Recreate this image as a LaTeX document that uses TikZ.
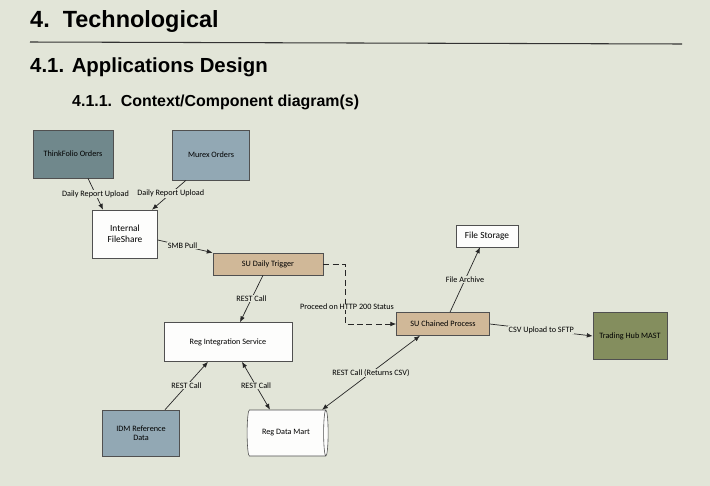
\documentclass[tikz,border=0pt]{standalone}
\usepackage{fontspec}
\setmainfont{Liberation Sans}
\newfontfamily\diagfont{Carlito}
\usetikzlibrary{shapes.geometric,arrows.meta}

\definecolor{screen}{RGB}{226,229,216}
\definecolor{slate}{RGB}{112,136,140}
\definecolor{steel}{RGB}{146,168,180}
\definecolor{tan}{RGB}{208,184,152}
\definecolor{olive}{RGB}{132,142,94}
\definecolor{boxline}{RGB}{80,80,80}

\begin{document}
\begin{tikzpicture}[x=0.3mm, y=-0.3mm,
  comp/.style={draw=boxline, line width=0.5pt, font=\diagfont\fontsize{7}{8}\selectfont,
    align=center, inner sep=1pt},
  plain/.style={comp, fill=white!92!screen},
  lbl/.style={font=\diagfont\fontsize{7}{8}\selectfont, fill=screen, inner sep=0.5pt},
  link/.style={draw=black!85, line width=0.6pt, -{Latex[length=5pt,width=4pt]}},
  both/.style={link, {Latex[length=5pt,width=4pt]}-{Latex[length=5pt,width=4pt]}}]
  \fill[screen] (0,0) rectangle (710,486);
  \useasboundingbox (0,0) rectangle (710,486);

  % headings
  \node[anchor=base west, inner sep=0, font=\bfseries\fontsize{20}{24}\selectfont] (h1) at (30,27) {4.\ \ Technological};
  \draw[line width=0.9pt, black!80] (30,42) -- (682,44);
  \node[anchor=base west, inner sep=0, font=\bfseries\fontsize{17.4}{20}\selectfont] (h2) at (30,72) {4.1. Applications Design};
  \node[anchor=base west, inner sep=0, font=\bfseries\fontsize{13.6}{16}\selectfont] (h3) at (72,106) {4.1.1.\ \ Context/Component diagram(s)};

  % components
  \node[comp, fill=slate, minimum width=80*0.3mm, minimum height=48*0.3mm] (think) at (73,154) {ThinkFolio Orders};
  \node[comp, fill=steel, minimum width=77*0.3mm, minimum height=50*0.3mm] (murex) at (211,155) {Murex Orders};
  \node[plain, minimum width=65*0.3mm, minimum height=48*0.3mm, font=\diagfont\fontsize{8}{9.5}\selectfont] (share) at (125,234) {Internal\\FileShare};
  \node[comp, fill=tan, minimum width=110*0.3mm, minimum height=22*0.3mm] (trigger) at (268,264) {SU Daily Trigger};
  \node[plain, minimum width=62*0.3mm, minimum height=22*0.3mm, font=\diagfont\fontsize{8}{9.5}\selectfont] (storage) at (487,236) {File Storage};
  \node[comp, fill=tan, minimum width=93*0.3mm, minimum height=23*0.3mm] (chained) at (443,324) {SU Chained Process};
  \node[comp, fill=olive, minimum width=74*0.3mm, minimum height=47*0.3mm] (mast) at (630,336) {Trading Hub MAST};
  \node[plain, minimum width=128*0.3mm, minimum height=39*0.3mm] (regint) at (228,342) {Reg Integration Service};
  \node[comp, fill=steel, minimum width=77*0.3mm, minimum height=46*0.3mm] (idm) at (141,433) {IDM Reference\\Data};
  \node[comp, fill=white!92!screen, shape=cylinder, shape aspect=0.5,
    minimum width=46*0.3mm, minimum height=81*0.3mm] (mart) at (286,433) {Reg Data Mart};

  % connectors
  \coordinate (corner) at (345,264);
  \coordinate (bend) at (345,324);
  \draw[link] (think.south) ++(15,0) -- node[lbl] {Daily Report Upload} ([xshift=-22*0.3mm]share.north);
  \draw[link] (murex.south) ++(-25,0) -- node[lbl, pos=0.45] {Daily Report Upload} ([xshift=27*0.3mm]share.north);
  \draw[link] ([yshift=-6*0.3mm]share.east) -- node[lbl, pos=0.45] {SMB Pull} (trigger.north west);
  \draw[link] ([xshift=-5*0.3mm]trigger.south) -- node[lbl] {REST Call} ([xshift=12*0.3mm]regint.north);
  \draw[link, dashed, dash pattern=on 5pt off 3pt] (trigger.east) -- (corner) -- (bend) -- (chained.west);
  \node[lbl] (proceed) at (347,307) {Proceed on HTTP 200 Status};
  \draw[link] ([xshift=7*0.3mm]chained.north) -- node[lbl] {File Archive} ([xshift=-7*0.3mm]storage.south);
  \draw[link] (chained.east) -- node[lbl] {CSV Upload to SFTP} (mast.west);
  \draw[link] ([xshift=24*0.3mm]idm.north) -- node[lbl] {REST Call} ([xshift=-20*0.3mm]regint.south);
  \draw[both] ([xshift=14*0.3mm]regint.south) -- node[lbl] {REST Call} ([xshift=-16*0.3mm]mart.north);
  \draw[both] ([xshift=36*0.3mm]mart.north) -- node[lbl] {REST Call (Returns CSV)} ([xshift=-23*0.3mm]chained.south);
\end{tikzpicture}
\end{document}
